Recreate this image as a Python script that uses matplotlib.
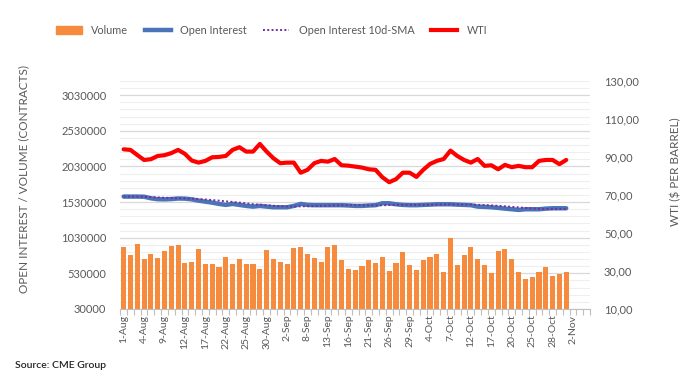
import matplotlib.pyplot as plt
from matplotlib.patches import Patch
from matplotlib.lines import Line2D
from matplotlib.ticker import FixedLocator, FuncFormatter

plt.rcParams['font.family'] = ['Lato', 'DejaVu Sans']

# trading days 1-Aug-2022 .. 4-Nov-2022 (69 slots), data up to 1-Nov
n_slots = 69
tick_labels = ['1-Aug', '4-Aug', '9-Aug', '12-Aug', '17-Aug', '22-Aug', '25-Aug',
               '30-Aug', '2-Sep', '8-Sep', '13-Sep', '16-Sep', '21-Sep', '26-Sep',
               '29-Sep', '4-Oct', '7-Oct', '12-Oct', '17-Oct', '20-Oct', '25-Oct',
               '28-Oct', '2-Nov']

volume = [900, 788, 942, 732, 802, 746, 844, 914, 928, 680, 690, 872, 662, 662,
          619, 760, 662, 732, 662, 662, 591, 858, 732, 690, 662, 886, 900, 802,
          746, 690, 900, 928, 718, 591, 577, 633, 718, 676, 760, 563, 676, 830,
          647, 577, 718, 760, 802, 549, 1026, 647, 788, 900, 732, 647, 535, 844,
          872, 732, 549, 451, 479, 549, 619, 493, 521, 549]

open_interest = [1607, 1607, 1607, 1605, 1583, 1570, 1568, 1572, 1580, 1578, 1568,
                 1550, 1536, 1522, 1504, 1490, 1504, 1490, 1476, 1466, 1476, 1466,
                 1457, 1457, 1457, 1476, 1504, 1490, 1486, 1486, 1486, 1486, 1486,
                 1482, 1476, 1476, 1482, 1486, 1513, 1513, 1499, 1490, 1486, 1486,
                 1490, 1494, 1499, 1499, 1499, 1494, 1490, 1486, 1466, 1462, 1457,
                 1448, 1438, 1429, 1420, 1429, 1429, 1429, 1438, 1443, 1443, 1443]

oi_sma = [1607, 1607, 1607, 1606, 1600, 1595, 1590, 1588, 1585, 1582, 1578, 1573,
          1566, 1558, 1550, 1540, 1532, 1522, 1512, 1500, 1492, 1486, 1478, 1472,
          1468, 1467, 1470, 1472, 1474, 1476, 1479, 1482, 1485, 1488, 1487, 1486,
          1484, 1483, 1485, 1488, 1490, 1491, 1491, 1491, 1491, 1492, 1494, 1496,
          1497, 1496, 1495, 1494, 1491, 1488, 1483, 1477, 1470, 1463, 1455, 1448,
          1441, 1436, 1433, 1431, 1432, 1434]

wti = [94.0, 93.7, 91.0, 88.4, 88.8, 90.5, 90.9, 92.0, 93.7, 91.6, 88.1, 87.0,
       87.9, 89.8, 90.0, 90.5, 93.7, 95.1, 92.8, 92.8, 96.8, 92.8, 89.3, 86.7,
       87.0, 87.0, 81.7, 83.2, 86.7, 87.9, 87.5, 88.9, 85.6, 85.4, 84.9, 84.4,
       83.5, 83.2, 79.3, 76.7, 78.3, 81.7, 81.7, 79.5, 83.2, 86.3, 87.9, 88.9,
       93.3, 90.5, 88.4, 87.0, 88.9, 85.3, 85.6, 83.5, 85.8, 84.6, 85.3, 84.6,
       84.6, 87.9, 88.4, 88.4, 86.2, 88.4]

x = list(range(len(volume)))
vol = [v * 1000 for v in volume]
oi = [v * 1000 for v in open_interest]
sma = [v * 1000 for v in oi_sma]

c_vol = '#F68B3E'
c_oi = '#4A73B8'
c_sma = '#7030A0'
c_wti = '#FF0000'
c_txt = '#595959'

fig = plt.figure(figsize=(6.95, 3.87), dpi=100)
ax = fig.add_axes([0.173, 0.2016, 0.676, 0.5894])
ax2 = ax.twinx()

ax.bar(x, vol, width=0.75, color=c_vol, zorder=2)
ax.plot(x, oi, color=c_oi, lw=3.2, solid_capstyle='round', zorder=3)
ax.plot(x, sma, color=c_sma, lw=1.4, ls=(0, (1, 1.2)), zorder=4)
ax2.plot(x, wti, color=c_wti, lw=3, solid_capstyle='round', zorder=3)

ax.set_xlim(-0.5, n_slots - 0.5)
ax.set_ylim(30000, 3230000)
ax2.set_ylim(10, 130)

ax.yaxis.set_major_locator(FixedLocator([30000 + 500000 * k for k in range(7)]))
ax.yaxis.set_minor_locator(FixedLocator([30000 + 100000 * k for k in range(33)]))
ax.yaxis.set_major_formatter(FuncFormatter(lambda v, p: f'{int(round(v))}'))
ax.grid(axis='y', which='major', color='#D9D9D9', lw=0.9, zorder=0)
ax.grid(axis='y', which='minor', color='#EFEFEF', lw=0.8, zorder=0)
ax.set_axisbelow(True)

ax2.yaxis.set_major_locator(FixedLocator([10, 30, 50, 70, 90, 110, 130]))
ax2.yaxis.set_major_formatter(FuncFormatter(lambda v, p: f'{v:.2f}'.replace('.', ',')))

ax.set_xticks(range(0, 3 * len(tick_labels), 3))
ax.set_xticklabels(tick_labels, rotation=90)
ax.set_xticks([i - 0.5 for i in range(n_slots + 1)], minor=True)

for a in (ax, ax2):
    for s in a.spines.values():
        s.set_visible(False)
ax.spines['bottom'].set_visible(True)
ax.spines['bottom'].set_color('#BFBFBF')

ax.tick_params(axis='y', which='both', length=0, labelsize=8, labelcolor=c_txt, pad=10)
ax2.tick_params(axis='y', which='both', length=0, labelsize=8, labelcolor=c_txt, pad=10)
ax.tick_params(axis='x', which='major', length=0, labelsize=7.5, labelcolor=c_txt, pad=4)
ax.tick_params(axis='x', which='minor', length=4, color='#BFBFBF', width=0.8)

ax.set_ylabel('OPEN INTEREST / VOLUME (CONTRACTS)', fontsize=8.5, color=c_txt)
ax2.set_ylabel('WTI ($ PER BARREL)', fontsize=8.5, color=c_txt)
ax.yaxis.set_label_coords(-0.193, 0.57)
ax2.yaxis.set_label_coords(1.17, 0.6)

handles = [Patch(color=c_vol),
           Line2D([], [], color=c_oi, lw=3.2),
           Line2D([], [], color=c_sma, lw=1.4, ls=(0, (1, 1.2))),
           Line2D([], [], color=c_wti, lw=3)]
names = ['Volume', 'Open Interest', 'Open Interest 10d-SMA', 'WTI']
fig.legend(handles, names, loc='center left', bbox_to_anchor=(0.066, 0.922), ncol=4,
           frameon=False, fontsize=7.8, labelcolor=c_txt, handlelength=2.4,
           handletextpad=0.9, columnspacing=1.5)

fig.text(0.022, 0.048, 'Source: CME Group', fontsize=7.5, color='#222222', fontweight='semibold')

fig.savefig('out.png', dpi=100)
